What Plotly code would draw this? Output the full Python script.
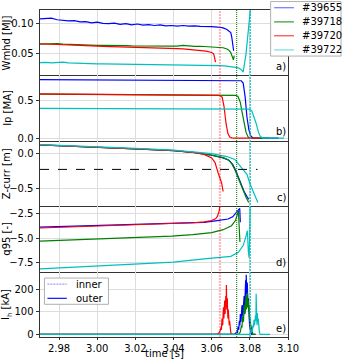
import plotly.graph_objects as go
from plotly.subplots import make_subplots

shots = ["#39655", "#39718", "#39720", "#39722"]
colors = ["#0000ff", "#008000", "#ff0000", "#00bfbf"]
legend_colors = ["rgba(0,0,255,0.55)", "rgba(0,128,0,0.8)", "rgba(255,0,0,0.75)", "rgba(0,191,191,0.55)"]

t_flat = [2.970, 2.973, 2.976, 2.979, 2.982, 2.985, 2.988, 2.991, 2.994, 2.997,
          3.000, 3.003, 3.006, 3.009, 3.012, 3.015, 3.018, 3.021, 3.024, 3.027,
          3.030, 3.033, 3.036, 3.039, 3.042, 3.045, 3.048, 3.051, 3.054, 3.057, 3.060]

# ---- Wmhd [MJ]
w_blue_flat = [0.1075, 0.1080, 0.1085, 0.1060, 0.1050, 0.1040, 0.1045, 0.1025, 0.1030, 0.1010,
               0.1020, 0.1000, 0.0995, 0.1005, 0.0985, 0.0995, 0.0975, 0.0990, 0.0970, 0.0980,
               0.0965, 0.0975, 0.0960, 0.0965, 0.0955, 0.0965, 0.0955, 0.0960, 0.0950, 0.0955, 0.0948]
w_blue_tail_t = [3.063, 3.066, 3.068, 3.069, 3.070, 3.0705, 3.071, 3.0715]
w_blue_tail = [0.0940, 0.0925, 0.0900, 0.0880, 0.0850, 0.0780, 0.0660, 0.0550]

w_green_flat = [0.0660, 0.0665, 0.0672, 0.0668, 0.0660, 0.0655, 0.0650, 0.0648, 0.0645, 0.0642,
                0.0640, 0.0638, 0.0640, 0.0635, 0.0632, 0.0636, 0.0630, 0.0628, 0.0632, 0.0626,
                0.0624, 0.0628, 0.0622, 0.0620, 0.0625, 0.0640, 0.0630, 0.0622, 0.0624, 0.0618, 0.0620]
w_green_tail_t = [3.063, 3.066, 3.068, 3.069, 3.070, 3.0705, 3.071, 3.0714, 3.0718]
w_green_tail = [0.0615, 0.0600, 0.0580, 0.0560, 0.0520, 0.0480, 0.0440, 0.0400, 0.0470]

w_red_flat = [0.0665, 0.0660, 0.0655, 0.0650, 0.0645, 0.0640, 0.0638, 0.0635, 0.0630, 0.0628,
              0.0625, 0.0622, 0.0620, 0.0618, 0.0615, 0.0612, 0.0610, 0.0608, 0.0605, 0.0602,
              0.0600, 0.0597, 0.0595, 0.0590, 0.0586, 0.0580, 0.0573, 0.0565, 0.0556, 0.0545, 0.0522]
w_red_tail_t = [3.061, 3.0615, 3.062]
w_red_tail = [0.0500, 0.0440, 0.0365]

w_cyan_flat = [0.0355, 0.0360, 0.0352, 0.0358, 0.0362, 0.0350, 0.0345, 0.0342, 0.0338, 0.0336,
               0.0335, 0.0333, 0.0332, 0.0330, 0.0331, 0.0328, 0.0327, 0.0326, 0.0325, 0.0324,
               0.0322, 0.0323, 0.0321, 0.0320, 0.0320, 0.0318, 0.0317, 0.0316, 0.0315, 0.0312, 0.0310]
w_cyan_tail_t = [3.064, 3.068, 3.072, 3.074, 3.0755, 3.0765, 3.078, 3.0795, 3.0805]
w_cyan_tail = [0.0305, 0.0298, 0.0285, 0.0270, 0.0240, 0.0200, 0.0500, 0.0950, 0.1300]

# ---- Ip [MA]
ip_blue_t = [2.970, 3.020, 3.060, 3.0735, 3.0755, 3.0765, 3.0775, 3.0785, 3.0795, 3.0805, 3.0815, 3.083, 3.095]
ip_blue = [0.785, 0.782, 0.780, 0.778, 0.770, 0.740, 0.560, 0.280, 0.110, 0.030, 0.005, 0.0, 0.0]
ip_green_t = [2.970, 3.030, 3.060, 3.0725, 3.0738, 3.075, 3.076, 3.077, 3.078, 3.079, 3.080, 3.090]
ip_green = [0.590, 0.585, 0.580, 0.575, 0.560, 0.480, 0.340, 0.200, 0.080, 0.020, 0.0, 0.0]
ip_red_t = [2.970, 3.030, 3.060, 3.064, 3.0655, 3.0665, 3.0675, 3.0685, 3.0695, 3.0705, 3.072, 3.085]
ip_red = [0.595, 0.585, 0.578, 0.575, 0.550, 0.420, 0.200, 0.060, 0.015, 0.003, 0.0, 0.0]
ip_cyan_t = [2.970, 3.030, 3.070, 3.0795, 3.081, 3.082, 3.0834, 3.0845, 3.0855, 3.087, 3.098]
ip_cyan = [0.400, 0.398, 0.394, 0.390, 0.370, 0.300, 0.190, 0.080, 0.020, 0.0, 0.0]

# ---- Z-curr [m]
z_blue_t = [2.970, 3.000, 3.020, 3.040, 3.050, 3.060, 3.066, 3.069, 3.071, 3.0725, 3.074, 3.0755, 3.077, 3.0785, 3.0794]
z_blue = [0.113, 0.084, 0.059, 0.034, 0.008, -0.032, -0.068, -0.100, -0.160, -0.240, -0.340, -0.440, -0.540, -0.610, -0.650]
z_green_t = [2.970, 3.000, 3.020, 3.040, 3.050, 3.060, 3.066, 3.0686, 3.0705, 3.0721, 3.0738, 3.0750, 3.0764, 3.078, 3.0794]
z_green = [0.112, 0.083, 0.058, 0.033, 0.010, -0.030, -0.065, -0.093, -0.150, -0.230, -0.350, -0.430, -0.535, -0.620, -0.695]
z_red_t = [2.970, 3.000, 3.020, 3.040, 3.050, 3.056, 3.060, 3.0617, 3.0634, 3.0652, 3.066]
z_red = [0.115, 0.085, 0.060, 0.035, 0.010, -0.020, -0.070, -0.130, -0.280, -0.420, -0.540]
z_cyan_t = [2.970, 3.000, 3.020, 3.040, 3.050, 3.060, 3.068, 3.0721, 3.076, 3.0785, 3.0799, 3.081, 3.0827, 3.0842]
z_cyan = [0.116, 0.088, 0.064, 0.040, 0.020, -0.010, -0.050, -0.090, -0.220, -0.300, -0.420, -0.500, -0.600, -0.695]
z_ref_t = [2.970, 3.084]
z_ref = [-0.23, -0.23]

# ---- q95 [-]
q_blue_t = [2.970, 2.990, 3.010, 3.030, 3.040, 3.050, 3.056, 3.062, 3.0686, 3.0710, 3.0721, 3.0738, 3.0747, 3.0750]
q_blue = [-3.90, -3.80, -3.68, -3.57, -3.52, -3.46, -3.40, -3.25, -3.07, -2.85, -2.57, -2.24, -2.00, -3.40]
q_green_t = [2.970, 2.990, 3.010, 3.030, 3.039, 3.050, 3.060, 3.066, 3.0704, 3.0725, 3.0736, 3.0740, 3.0744, 3.0748]
q_green = [-5.32, -5.18, -5.02, -4.88, -4.80, -4.65, -4.45, -4.15, -3.75, -3.20, -2.57, -2.24, -3.80, -5.40]
q_red_t = [2.970, 2.990, 3.010, 3.030, 3.040, 3.050, 3.056, 3.060, 3.062, 3.063, 3.0635, 3.0640, 3.0643]
q_red = [-3.98, -3.85, -3.72, -3.62, -3.56, -3.45, -3.35, -3.22, -3.05, -2.80, -2.50, -2.20, -1.70]
q_cyan_t = [2.970, 2.990, 3.010, 3.030, 3.040, 3.056, 3.070, 3.074, 3.0765, 3.078, 3.0787, 3.0792, 3.0796, 3.0799, 3.0802]
q_cyan = [-8.13, -7.95, -7.75, -7.55, -7.43, -7.10, -6.85, -6.45, -5.76, -4.80, -4.25, -6.30, -7.00, -5.00, -1.50]

# ---- I_h [kA]
ih_blue_t = [2.970, 3.072, 3.0730, 3.0735, 3.0738, 3.0742, 3.0745, 3.0748, 3.0750, 3.0753, 3.0755, 3.0758,
             3.0760, 3.0763, 3.0765, 3.0768, 3.0770, 3.0772, 3.0774, 3.0776, 3.0778, 3.0780, 3.0781,
             3.0783, 3.0784, 3.0786, 3.0787, 3.0789, 3.0790, 3.0792, 3.0794, 3.0796, 3.0798, 3.0800,
             3.0803, 3.0806, 3.0810, 3.083]
ih_blue = [0, 0, 10, 5, 35, 20, 60, 40, 90, 55, 70, 120, 130, 80, 110, 160, 170, 100, 150, 200,
           240, 150, 265, 170, 180, 230, 220, 130, 120, 160, 90, 60, 50, 30, 20, 8, 0, 0]
ih_green_t = [2.970, 3.074, 3.0750, 3.0753, 3.0756, 3.0759, 3.0762, 3.0764, 3.0767, 3.0770, 3.0772,
              3.0774, 3.0776, 3.0778, 3.0780, 3.0782, 3.0784, 3.0786, 3.0788, 3.0790, 3.0792,
              3.0794, 3.0796, 3.0798, 3.0800, 3.0803, 3.0805, 3.0808, 3.0810, 3.0813, 3.0816, 3.083]
ih_green = [0, 0, 10, 25, 40, 30, 80, 55, 60, 130, 120, 90, 100, 150, 170, 110, 140, 160, 185, 120,
            150, 100, 130, 70, 80, 50, 40, 25, 15, 8, 0, 0]
ih_red_t = [2.970, 3.063, 3.0640, 3.0644, 3.0648, 3.0651, 3.0654, 3.0656, 3.0658, 3.0660, 3.0662,
            3.0664, 3.0665, 3.0667, 3.0668, 3.0670, 3.0671, 3.0673, 3.0674, 3.0676, 3.0677, 3.0679,
            3.0680, 3.0682, 3.0684, 3.0685, 3.0687, 3.0688, 3.0690, 3.0692, 3.0694, 3.0696, 3.0698,
            3.0700, 3.0704, 3.072]
ih_red = [0, 0, 8, 15, 30, 20, 70, 40, 45, 95, 120, 70, 90, 130, 150, 90, 110, 160, 170, 120, 219,
          110, 120, 160, 90, 70, 110, 95, 50, 40, 60, 25, 15, 8, 0, 0]
ih_cyan_t = [2.970, 3.080, 3.0810, 3.0813, 3.0816, 3.0819, 3.0822, 3.0824, 3.0826, 3.0828, 3.0830,
             3.0832, 3.0833, 3.0835, 3.0836, 3.0838, 3.0839, 3.0841, 3.0842, 3.0844, 3.0846, 3.0848,
             3.0850, 3.0852, 3.0855, 3.0906]
ih_cyan = [0, 0, 15, 10, 40, 30, 65, 40, 50, 70, 85, 60, 180, 90, 70, 40, 95, 60, 50, 70, 30, 20,
           10, 5, 0, 0]

vline_t = [3.0643, 3.0731, 3.0802]
vline_colors = ["rgba(255,0,0,0.3)", "#008000", "rgba(0,191,191,0.9)"]
vline_widths = [2, 1, 1.3]
vline_dash = ["2px,1px", "1px,1px", "2px,1px"]

panel_titles = ["Wmhd [MJ]", "Ip [MA]", "Z-curr [m]", "q95 [-]", "I<sub>h</sub> [kA]"]
panel_tags = ["a)", "b)", "c)", "d)", "e)"]
y_ranges = [[0.0145, 0.122], [-0.036, 0.842], [-0.746, 0.171], [-8.4, -1.77], [-12, 279]]
y_ticks = [[0.05, 0.10], [0.0, 0.5], [-0.5, 0.0], [-7.5, -5.0, -2.5], [0, 100, 200]]
y_fmt = [".2f", ".1f", ".1f", ".1f", "d"]
x_ticks = [2.98, 3.00, 3.02, 3.04, 3.06, 3.08, 3.10]

hl_names = ["inner", "outer"]
hl_colors = ["rgba(90,90,255,0.6)", "#2020ff"]
hl_dash = ["2px,1px", "solid"]

FONT = "DejaVu Sans"
AX = "#333333"
LEGBORDER = "#b0b0b0"
# plot-area pixel geometry for placing legends
L, R, T, B = 38, 288, 9, 339
W, H = R - L, B - T


def px(x):
    return (x - L) / W


def py(y):
    return (B - y) / H


fig = make_subplots(rows=5, cols=1, shared_xaxes=True, vertical_spacing=0)

series = {
    1: [(t_flat + w_blue_tail_t, w_blue_flat + w_blue_tail),
        (t_flat + w_green_tail_t, w_green_flat + w_green_tail),
        (t_flat + w_red_tail_t, w_red_flat + w_red_tail),
        (t_flat + w_cyan_tail_t, w_cyan_flat + w_cyan_tail)],
    2: [(ip_blue_t, ip_blue), (ip_green_t, ip_green), (ip_red_t, ip_red), (ip_cyan_t, ip_cyan)],
    3: [(z_blue_t, z_blue), (z_green_t, z_green), (z_red_t, z_red), (z_cyan_t, z_cyan)],
    4: [(q_blue_t, q_blue), (q_green_t, q_green), (q_red_t, q_red), (q_cyan_t, q_cyan)],
    5: [(ih_blue_t, ih_blue), (ih_green_t, ih_green), (ih_red_t, ih_red), (ih_cyan_t, ih_cyan)],
}

for row, lst in series.items():
    for i, (tx, vy) in enumerate(lst):
        fig.add_trace(go.Scatter(x=tx, y=vy, mode="lines",
                                 line=dict(color=colors[i], width=1.2),
                                 name=shots[i], showlegend=False, hoverinfo="skip"),
                      row=row, col=1)
    if row == 3:
        fig.add_trace(go.Scatter(x=z_ref_t, y=z_ref, mode="lines",
                                 line=dict(color="black", width=1, dash="dash"),
                                 showlegend=False, hoverinfo="skip"), row=3, col=1)

for t, c, w, d in zip(vline_t, vline_colors, vline_widths, vline_dash):
    fig.add_shape(type="line", xref="x", yref="paper", x0=t, x1=t, y0=0, y1=1,
                  line=dict(color=c, width=w, dash=d))

for r in range(1, 6):
    fig.update_yaxes(row=r, col=1, range=y_ranges[r - 1], tickvals=y_ticks[r - 1],
                     tickformat=y_fmt[r - 1], showline=True, mirror=True, linecolor=AX,
                     linewidth=1, showgrid=True, gridcolor="#dddddd", gridwidth=1,
                     ticks="outside", ticklen=3.5, tickcolor=AX, zeroline=False,
                     tickfont=dict(family=FONT, size=10, color="black"))
    fig.update_xaxes(row=r, col=1, range=[2.97, 3.10], tickvals=x_ticks, tickformat=".2f",
                     showline=True, mirror=(r == 1), linecolor=AX, linewidth=1,
                     showgrid=True, gridcolor="#dddddd", gridwidth=1, zeroline=False,
                     ticks="outside" if r == 5 else "", ticklen=1.5, tickcolor=AX,
                     tickfont=dict(family=FONT, size=10, color="black"))
    yc = 1 - (r - 0.5) / 5
    fig.add_annotation(xref="paper", yref="paper", x=px(4.5), y=yc, text=panel_titles[r - 1],
                       textangle=-90, showarrow=False, xanchor="center", yanchor="middle",
                       font=dict(family=FONT, size=10, color="black"))
    fig.add_annotation(xref="paper", yref="paper", x=0.998, y=1 - r / 5 + 0.004,
                       text=panel_tags[r - 1], showarrow=False, xanchor="right", yanchor="bottom",
                       font=dict(family=FONT, size=10, color="black"))

fig.add_annotation(xref="paper", yref="paper", x=0.5, y=py(363), text="time [s]",
                   showarrow=False, xanchor="center", yanchor="bottom",
                   font=dict(family=FONT, size=10, color="black"))

# ---- shot legend (top right)
fig.add_shape(type="rect", xref="paper", yref="paper", x0=px(270.5), x1=px(341.5),
              y0=py(55.5), y1=py(0.5), line=dict(color=LEGBORDER, width=1), fillcolor="white",
              layer="above")
leg_rows = [6.7, 21.0, 35.0, 49.3]
for i, s in enumerate(shots):
    fig.add_shape(type="line", xref="paper", yref="paper", x0=px(274), x1=px(294),
                  y0=py(leg_rows[i]), y1=py(leg_rows[i]),
                  line=dict(color=legend_colors[i], width=1.2), layer="above")
    fig.add_annotation(xref="paper", yref="paper", x=px(300), y=py(leg_rows[i]), text=s,
                       showarrow=False, xanchor="left", yanchor="middle",
                       font=dict(family=FONT, size=10, color="black"))

# ---- inner/outer legend (panel e)
fig.add_shape(type="rect", xref="paper", yref="paper", x0=px(42.5), x1=px(107),
              y0=py(306), y1=py(279.5), line=dict(color=LEGBORDER, width=1), fillcolor="white",
              layer="above")
hl_rows = [285.7, 300.0]
for i, s in enumerate(hl_names):
    fig.add_shape(type="line", xref="paper", yref="paper", x0=px(45.5), x1=px(65),
                  y0=py(hl_rows[i]), y1=py(hl_rows[i]),
                  line=dict(color=hl_colors[i], width=1.3, dash=hl_dash[i]), layer="above")
    fig.add_annotation(xref="paper", yref="paper", x=px(72.5), y=py(hl_rows[i]), text=s,
                       showarrow=False, xanchor="left", yanchor="middle",
                       font=dict(family=FONT, size=10, color="black"))

fig.update_layout(
    width=342, height=363,
    margin=dict(l=L, r=342 - R, t=T, b=363 - B),
    plot_bgcolor="white", paper_bgcolor="white",
    font=dict(family=FONT, size=10, color="black"),
    showlegend=False, hovermode=False,
)

fig.write_html("out.html", config={"displayModeBar": False, "staticPlot": True},
               post_script="document.body.style.margin='0';document.body.style.overflow='hidden';")
